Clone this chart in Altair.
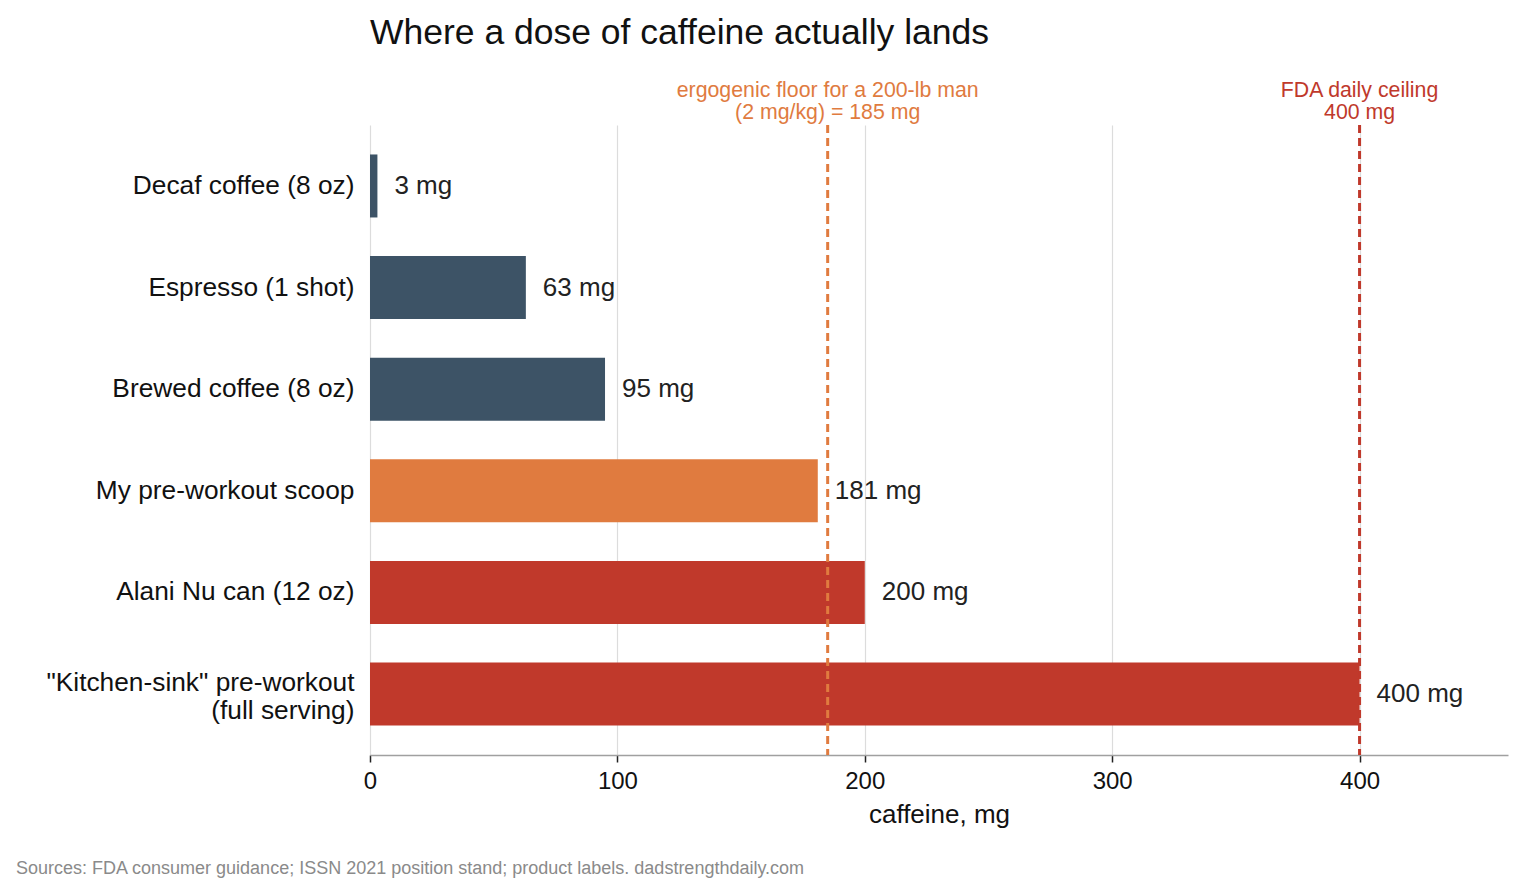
import altair as alt
import pandas as pd

# Caffeine per item, mg
items = [
    "Decaf coffee (8 oz)",
    "Espresso (1 shot)",
    "Brewed coffee (8 oz)",
    "My pre-workout scoop",
    "Alani Nu can (12 oz)",
    "\"Kitchen-sink\" pre-workout|(full serving)",
]
caffeine_mg = [3, 63, 95, 181, 200, 400]
groups = ["coffee", "coffee", "coffee", "mine", "high", "high"]

# Reference thresholds
ref_values = [185, 400]
ref_labels = ["ergogenic floor for a 200-lb man\n(2 mg/kg) = 185 mg", "FDA daily ceiling\n400 mg"]
ref_kind = ["floor", "ceiling"]

SLATE = "#3d5366"
ORANGE = "#e07b3f"
RED = "#c0392b"
FONT = "Liberation Sans"

bars_df = pd.DataFrame({
    "item": items,
    "mg": caffeine_mg,
    "group": groups,
    "label": [f"{v} mg" for v in caffeine_mg],
})
refs_df = pd.DataFrame({"mg": ref_values, "text": ref_labels, "kind": ref_kind})

x_scale = alt.Scale(domain=[0, 460], nice=False, zero=True)
y_scale = alt.Scale(domain=items, paddingInner=0.38, paddingOuter=0.29)
color_scale = alt.Scale(domain=["coffee", "mine", "high"], range=[SLATE, ORANGE, RED])
ref_color = alt.Scale(domain=["floor", "ceiling"], range=[ORANGE, RED])

x_enc = alt.X(
    "mg:Q",
    scale=x_scale,
    title="caffeine, mg",
    axis=alt.Axis(
        values=[0, 100, 200, 300, 400],
        grid=True,
        gridColor="#dcdcdc",
        gridWidth=1.2,
        domainColor="#a0a0a0",
        domainWidth=1.5,
        tickColor="#222222",
        tickWidth=1.5,
        tickSize=7,
        labelFlush=False,
        labelFontSize=24,
        labelColor="#111111",
        labelPadding=7,
        titleFontSize=26,
        titleFontWeight="normal",
        titleColor="#111111",
        titlePadding=8,
    ),
)
y_enc = alt.Y(
    "item:N",
    scale=y_scale,
    sort=items,
    title=None,
    axis=alt.Axis(
        domain=False,
        ticks=False,
        grid=False,
        labelFontSize=26.3,
        labelColor="#111111",
        labelPadding=16,
        labelLimit=400,
        labelLineHeight=28,
        labelOffset={"condition": {"test": "indexof(datum.value, '|') >= 0", "value": -11}, "value": 0},
        labelExpr="split(datum.label, '|')",
    ),
)

bars = alt.Chart(bars_df).mark_bar().encode(
    x=x_enc,
    y=y_enc,
    color=alt.Color("group:N", scale=color_scale, legend=None),
)

values = alt.Chart(bars_df).mark_text(
    align="left", baseline="middle", dx=17, fontSize=26, color="#222222", font=FONT
).encode(
    x=alt.X("mg:Q", scale=x_scale),
    y=alt.Y("item:N", scale=y_scale, sort=items),
    text="label:N",
)

rules = alt.Chart(refs_df).mark_rule(strokeDash=[8, 5], strokeWidth=3).encode(
    x=alt.X("mg:Q", scale=x_scale),
    color=alt.Color("kind:N", scale=ref_color, legend=None),
)

ref_text = alt.Chart(refs_df).mark_text(
    align="center", baseline="middle", fontSize=21.3, lineHeight=22, lineBreak="\n", font=FONT
).encode(
    x=alt.X("mg:Q", scale=x_scale),
    y=alt.value(-34),
    text="text:N",
    color=alt.Color("kind:N", scale=ref_color, legend=None),
)

footer = alt.Chart(pd.DataFrame({"t": ["Sources: FDA consumer guidance; ISSN 2021 position stand; product labels. dadstrengthdaily.com"]})).mark_text(
    align="left", baseline="middle", fontSize=18, color="#8a8a8a", font=FONT
).encode(
    x=alt.value(-354),
    y=alt.value(744),
    text="t:N",
)

chart = alt.layer(bars, values, rules, ref_text, footer).resolve_scale(
    color="independent"
).properties(
    width=1138,
    height=630,
    title=alt.TitleParams(
        "Where a dose of caffeine actually lands",
        anchor="start",
        frame="group",
        fontSize=35.5,
        fontWeight="normal",
        color="#111111",
        font=FONT,
        offset=29,
    ),
    autosize=alt.AutoSizeParams(type="none"),
    padding={"left": 370, "top": 125, "right": 15, "bottom": 139},
).configure(
    font=FONT,
).configure_view(
    stroke=None,
)

chart.save("out.html", embed_options={"renderer": "svg", "actions": False})
